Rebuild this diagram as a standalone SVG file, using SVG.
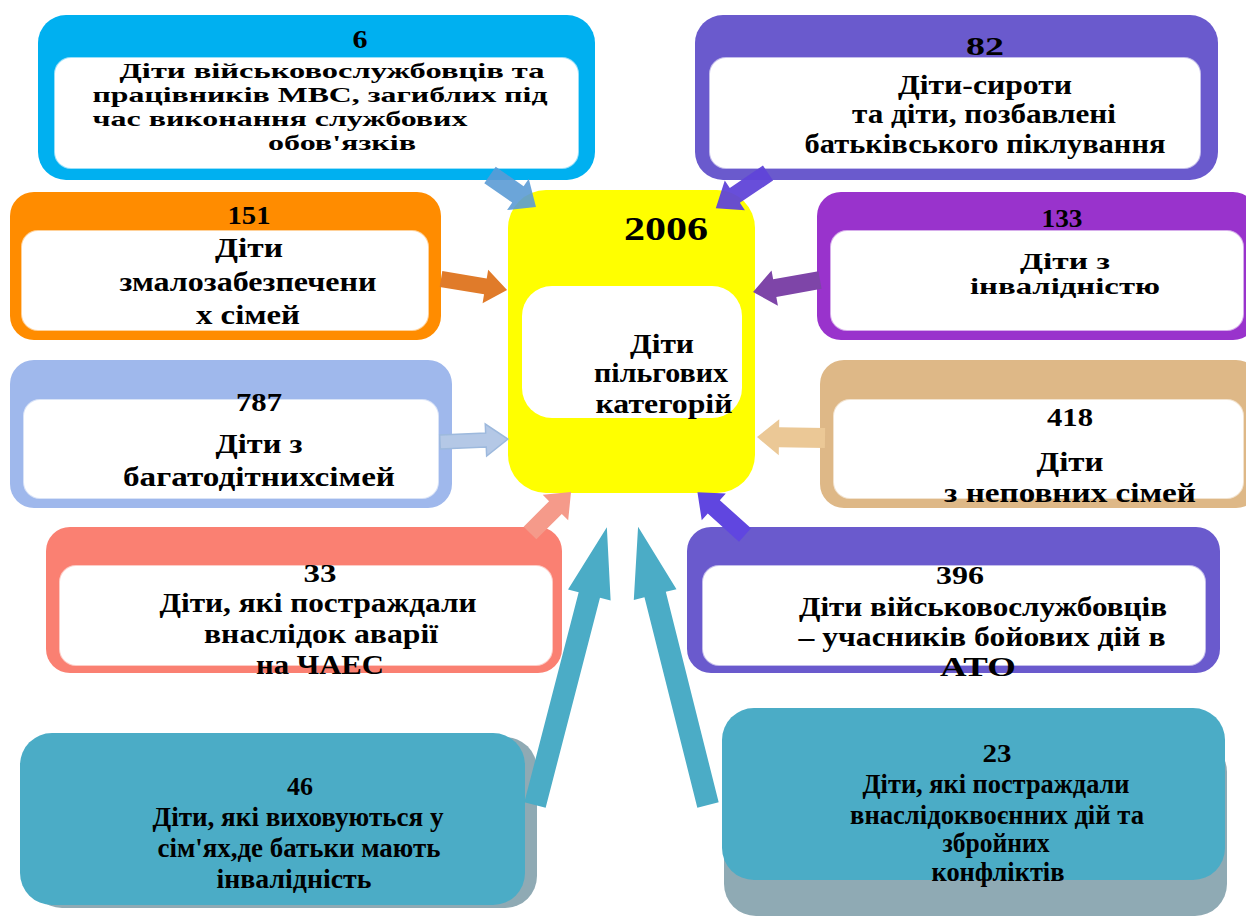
<svg xmlns="http://www.w3.org/2000/svg" width="1246" height="916" viewBox="0 0 1246 916" font-family="'Liberation Serif','Times New Roman',serif">
<style>
text{font-family:"Liberation Serif","Times New Roman",serif;font-weight:bold;fill:#000;text-anchor:middle}
.t{font-size:28px}
.s{font-size:22px}
.m{font-size:23px}
.n{font-size:25px}
.big{font-size:34px}
.inner{fill:#fff;stroke:#ffffff;stroke-opacity:0.6;stroke-width:2}
</style>
<rect width="1246" height="916" fill="#fff"/>

<g id="node-6">
<rect x="38" y="15" width="557" height="165" rx="28" fill="#00B0F0"/>
<rect class="inner" x="55" y="58" width="523" height="110" rx="16"/>
<text class="n" x="360" y="48" textLength="15" lengthAdjust="spacingAndGlyphs">6</text>
<text class="s" x="332" y="78" textLength="425" lengthAdjust="spacingAndGlyphs">Діти  військовослужбовців  та</text>
<text class="s" x="320" y="102" textLength="455" lengthAdjust="spacingAndGlyphs">працівників МВС, загиблих під</text>
<text class="s" x="280" y="126" textLength="375" lengthAdjust="spacingAndGlyphs">час виконання службових</text>
<text class="s" x="342" y="150" textLength="148" lengthAdjust="spacingAndGlyphs">обов'язків</text>
</g>

<g id="node-82">
<rect x="695" y="15" width="523" height="165" rx="28" fill="#6A5ACD"/>
<rect class="inner" x="710" y="58" width="490" height="110" rx="16"/>
<text class="n" x="985" y="55" textLength="38" lengthAdjust="spacingAndGlyphs">82</text>
<text class="t" x="985" y="94" textLength="174" lengthAdjust="spacingAndGlyphs">Діти-сироти</text>
<text class="t" x="984" y="123" textLength="264" lengthAdjust="spacingAndGlyphs">та діти, позбавлені</text>
<text class="t" x="985" y="153" textLength="361" lengthAdjust="spacingAndGlyphs">батьківського  піклування</text>
</g>

<g id="node-151">
<rect x="10" y="192" width="431" height="148" rx="24" fill="#FF8C00"/>
<rect class="inner" x="22" y="231" width="406" height="99" rx="16"/>
<text class="n" x="249" y="224" textLength="43" lengthAdjust="spacingAndGlyphs">151</text>
<text class="t" x="249" y="257" textLength="68" lengthAdjust="spacingAndGlyphs">Діти</text>
<text class="t" x="248" y="291" textLength="257" lengthAdjust="spacingAndGlyphs">змалозабезпечени</text>
<text class="t" x="248" y="324" textLength="104" lengthAdjust="spacingAndGlyphs">х сімей</text>
</g>

<g id="node-787">
<rect x="10" y="360" width="442" height="148" rx="24" fill="#9FB8EC"/>
<rect class="inner" x="24" y="400" width="414" height="98" rx="16"/>
<text class="n" x="259" y="411" textLength="46" lengthAdjust="spacingAndGlyphs">787</text>
<text class="t" x="259" y="453" textLength="87" lengthAdjust="spacingAndGlyphs">Діти з</text>
<text class="t" x="259" y="486" textLength="272" lengthAdjust="spacingAndGlyphs">багатодітнихсімей</text>
</g>

<g id="node-center">
<rect x="508" y="190" width="247" height="303" rx="38" fill="#FFFF00"/>
<rect x="522" y="286" width="220" height="132" rx="30" fill="#fff"/>
<text class="big" x="666" y="240" textLength="84" lengthAdjust="spacingAndGlyphs">2006</text>
<text class="t" x="662" y="353" textLength="64" lengthAdjust="spacingAndGlyphs">Діти</text>
<text class="t" x="661" y="382" textLength="134" lengthAdjust="spacingAndGlyphs">пільгових</text>
<text class="t" x="664" y="413" textLength="137" lengthAdjust="spacingAndGlyphs">категорій</text>
</g>

<g id="node-133">
<rect x="817" y="192" width="440" height="148" rx="24" fill="#9933CC"/>
<rect class="inner" x="831" y="231" width="412" height="99" rx="16"/>
<text class="n" x="1062" y="227" textLength="41" lengthAdjust="spacingAndGlyphs">133</text>
<text class="m" x="1065" y="269" textLength="90" lengthAdjust="spacingAndGlyphs">Діти з</text>
<text class="m" x="1065" y="294" textLength="190" lengthAdjust="spacingAndGlyphs">інвалідністю</text>
</g>

<g id="node-418">
<rect x="820" y="360" width="440" height="148" rx="24" fill="#DEB887"/>
<rect class="inner" x="834" y="400" width="409" height="98" rx="16"/>
<text class="n" x="1070" y="426" textLength="46" lengthAdjust="spacingAndGlyphs">418</text>
<text class="t" x="1070" y="471" textLength="67" lengthAdjust="spacingAndGlyphs">Діти</text>
<text class="t" x="1070" y="502" textLength="252" lengthAdjust="spacingAndGlyphs">з неповних сімей</text>
</g>

<g id="node-33">
<rect x="46" y="527" width="516" height="146" rx="24" fill="#FA8072"/>
<rect class="inner" x="60" y="566" width="492" height="99" rx="16"/>
<text class="n" x="320" y="582" textLength="33" lengthAdjust="spacingAndGlyphs">33</text>
<text class="t" x="318" y="612" textLength="317" lengthAdjust="spacingAndGlyphs">Діти, які постраждали</text>
<text class="t" x="321" y="643" textLength="234" lengthAdjust="spacingAndGlyphs">внаслідок аварії</text>
<text class="t" x="320" y="674" textLength="128" lengthAdjust="spacingAndGlyphs">на ЧАЕС</text>
</g>

<g id="node-396">
<rect x="687" y="527" width="533" height="146" rx="24" fill="#6A5ACD"/>
<rect class="inner" x="703" y="566" width="502" height="99" rx="16"/>
<text class="n" x="960" y="584" textLength="48" lengthAdjust="spacingAndGlyphs">396</text>
<text class="t" x="983" y="616" textLength="368" lengthAdjust="spacingAndGlyphs">Діти  військовослужбовців</text>
<text class="t" x="982" y="646" textLength="367" lengthAdjust="spacingAndGlyphs">– учасників бойових дій в</text>
<text class="t" x="978" y="676" textLength="76" lengthAdjust="spacingAndGlyphs">АТО</text>
</g>

<g id="node-46">
<rect x="30" y="737" width="507" height="171" rx="32" fill="#8FAAB4"/>
<rect x="20" y="733" width="505" height="172" rx="32" fill="#4BACC6"/>
<text class="n" x="300" y="795" textLength="26" lengthAdjust="spacingAndGlyphs">46</text>
<text class="t" x="298" y="826" textLength="291" lengthAdjust="spacingAndGlyphs">Діти, які виховуються у</text>
<text class="t" x="299" y="857" textLength="283" lengthAdjust="spacingAndGlyphs">сім'ях,де батьки мають</text>
<text class="t" x="294" y="888" textLength="155" lengthAdjust="spacingAndGlyphs">інвалідність</text>
</g>

<g id="node-23">
<rect x="724" y="740" width="503" height="176" rx="32" fill="#8FAAB4"/>
<rect x="722" y="708" width="503" height="172" rx="32" fill="#4BACC6"/>
<text class="n" x="997" y="762" textLength="29" lengthAdjust="spacingAndGlyphs">23</text>
<text class="t" x="996" y="793" textLength="267" lengthAdjust="spacingAndGlyphs">Діти, які постраждали</text>
<text class="t" x="997" y="824" textLength="294" lengthAdjust="spacingAndGlyphs">внаслідоквоєнних дій та</text>
<text class="t" x="996" y="852" textLength="107" lengthAdjust="spacingAndGlyphs">збройних</text>
<text class="t" x="998" y="881" textLength="133" lengthAdjust="spacingAndGlyphs">конфліктів</text>
</g>

<g id="connectors">
<path d="M0,-10 L34,-10 L34,-19 L56,0 L34,19 L34,10 L0,10 Z" transform="translate(490,175) rotate(34.8)" fill="#5B9BD5" fill-opacity="0.9"/>
<path d="M0,-9 L40,-9 L40,-18 L63,0 L40,18 L40,9 L0,9 Z" transform="translate(768,173) rotate(146)" fill="#6045D8" fill-opacity="0.95"/>
<path d="M0,-8 L45,-8 L45,-17 L67,0 L45,17 L45,8 L0,8 Z" transform="translate(441,279) rotate(9.5)" fill="#E07B2A"/>
<path d="M0,-7 L46,-7 L46,-16 L68,0 L46,16 L46,7 L0,7 Z" transform="translate(440,442) rotate(-2.5)" fill="#B4C8E6" stroke="#9DB9DD" stroke-width="1.5"/>
<path d="M0,-9 L46,-9 L46,-18 L68,0 L46,18 L46,9 L0,9 Z" transform="translate(820,280) rotate(169.8)" fill="#7E45A8"/>
<path d="M0,-10 L46,-10 L46,-18 L68,0 L46,18 L46,10 L0,10 Z" transform="translate(825,438) rotate(180.8)" fill="#EBC896"/>
<path d="M0,-9 L36,-9 L36,-18 L58,0 L36,18 L36,9 L0,9 Z" transform="translate(530,533) rotate(-45)" fill="#F59A8A"/>
<path d="M0,-9 L42,-9 L42,-18 L64,0 L42,18 L42,9 L0,9 Z" transform="translate(745,535) rotate(-138)" fill="#6046E0"/>
<path d="M0,-11 L217,-11 L217,-22 L287,0 L217,22 L217,11 L0,11 Z" transform="translate(535,805) rotate(-75.5)" fill="#4BACC6"/>
<path d="M0,-11 L217,-11 L217,-22 L287,0 L217,22 L217,11 L0,11 Z" transform="translate(708,805) rotate(-104.1)" fill="#4BACC6"/>
</g>
</svg>
